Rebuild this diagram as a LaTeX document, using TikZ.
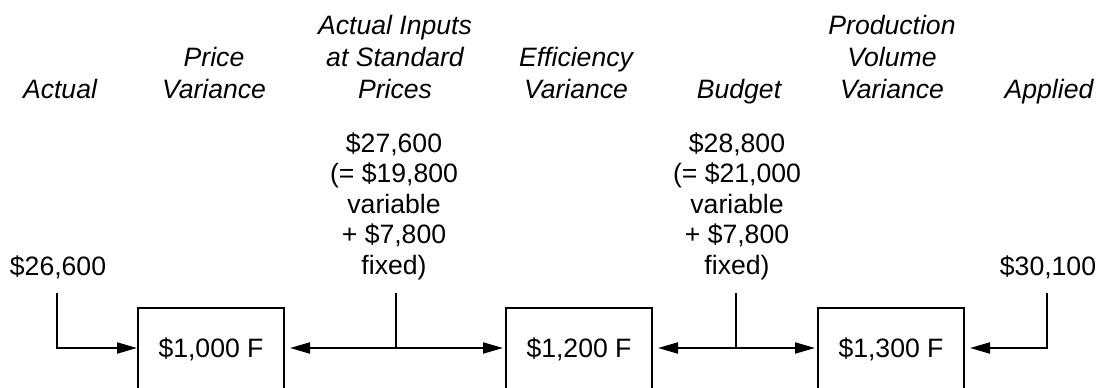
\documentclass[tikz,border=0pt]{standalone}
\usepackage{fontspec}
\setmainfont{Liberation Sans}
\usetikzlibrary{arrows.meta}
\begin{document}
\begin{tikzpicture}[x=1bp,y=-1bp,
  hdr/.style={font=\fontsize{26.6bp}{32bp}\selectfont\itshape, align=center, anchor=base, inner sep=0pt},
  num/.style={font=\fontsize{26.6bp}{30.5bp}\selectfont, align=center, anchor=base, inner sep=0pt},
  varbox/.style={draw, line width=2bp, minimum width=146bp, inner xsep=0pt, inner ysep=0pt,
    text height=49bp, text depth=60bp, anchor=base, font=\fontsize{26.6bp}{30bp}\selectfont},
  tip/.tip={Triangle[length=20bp,width=11bp]},
  arr/.style={line width=2bp, -tip},
  darr/.style={line width=2bp, tip-tip},
  ln/.style={line width=2bp}]
\clip (0,0) rectangle (1098,387);
% headers
\node[hdr] (hActual) at (60,98) {Actual};
\node[hdr] (hPrice) at (214,98) {Price\\Variance};
\node[hdr] (hAISP) at (395,98) {Actual Inputs\\at Standard\\Prices};
\node[hdr] (hEff) at (576,98) {Efficiency\\Variance};
\node[hdr] (hBudget) at (739,98) {Budget};
\node[hdr] (hPVV) at (892,98) {Production\\Volume\\Variance};
\node[hdr] (hApplied) at (1049,98) {Applied};
% amounts
\node[num] (nActual) at (58,275) {\$26,600};
\node[num] (nAISP) at (394,274) {\$27,600\\(= \$19,800\\variable\\+ \$7,800\\fixed)};
\node[num] (nBudget) at (737,274) {\$28,800\\(= \$21,000\\variable\\+ \$7,800\\fixed)};
\node[num] (nApplied) at (1048,275) {\$30,100};
% variance boxes
\node[varbox] (box1) at (211,357) {\$1,000 F};
\node[varbox] (box2) at (579,357) {\$1,200 F};
\node[varbox] (box3) at (891,357) {\$1,300 F};
% connector points
\coordinate (ly) at (0,348);
\coordinate (a0) at (57,293);
\coordinate (a1) at (396,293);
\coordinate (a2) at (736,293);
\coordinate (a3) at (1047,293);
% connectors
\draw[arr] (a0) |- (box1.west |- ly);
\draw[darr, shorten <=5bp, shorten >=2bp] (box1.east |- ly) -- (box2.west |- ly);
\draw[ln] (a1) -- (a1 |- ly);
\draw[darr, shorten <=5bp, shorten >=2bp] (box2.east |- ly) -- (box3.west |- ly);
\draw[ln] (a2) -- (a2 |- ly);
\draw[arr, shorten >=5bp] (a3) |- (box3.east |- ly);
\end{tikzpicture}
\end{document}
